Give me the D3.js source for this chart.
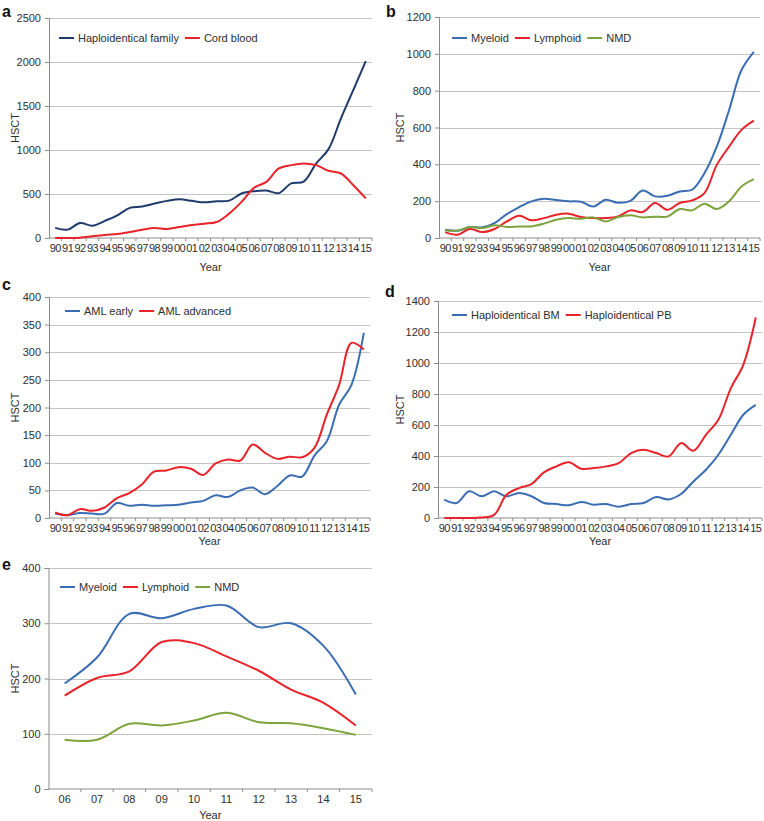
<!DOCTYPE html>
<html><head><meta charset="utf-8">
<script src="https://cdn.jsdelivr.net/npm/d3@7"></script>
<style>
body{margin:0;background:#fff;}
svg{display:block;font-family:"Liberation Sans",Arial,sans-serif;}
</style></head>
<body>
<svg id="chart" width="764" height="821"></svg>
<script>
// ---------- DATA ----------
const yearsLong = ["90","91","92","93","94","95","96","97","98","99","00","01","02","03","04","05","06","07","08","09","10","11","12","13","14","15"];
const yearsShort = ["06","07","08","09","10","11","12","13","14","15"];

// Panel a
const aHaplo = [115,95,170,140,195,258,342,358,391,422,441,422,405,418,425,505,532,540,510,620,640,845,1010,1360,1683,2010];
const aCord  = [0,0,3,20,35,45,68,95,114,103,125,148,163,182,277,410,570,638,790,828,847,828,765,733,600,450];

// Panel b
const bMyeloid  = [45,40,58,58,81,130,168,199,213,206,199,197,171,208,191,202,258,226,229,253,262,352,496,695,912,1011];
const bLymphoid = [32,18,49,32,49,90,121,96,108,126,132,114,108,108,117,150,141,190,153,190,204,244,397,496,587,637];
const bNMD      = [42,40,60,54,69,60,63,63,78,99,108,105,112,90,114,123,112,116,116,157,150,186,157,199,280,320];

// Panel c
const cEarly    = [8,5,9,8,8,27,22,24,22,23,24,28,31,41,38,50,55,43,58,77,75,113,139,205,241,335];
const cAdvanced = [10,5,16,13,19,36,45,60,84,86,92,89,78,99,106,104,133,118,107,111,110,127,187,241,317,305];

// Panel d
const dBM = [118,97,172,140,172,140,161,140,97,90,82,103,86,90,73,90,97,135,120,155,236,311,408,537,666,730];
const dPB = [0,0,0,3,20,150,193,219,294,333,359,318,322,333,354,419,440,419,397,483,434,537,634,838,988,1293];

// Panel e
const eMyeloid  = [191,238,317,309,326,332,293,300,259,171];
const eLymphoid = [169,201,213,266,264,240,214,180,156,115];
const eNMD      = [89,89,118,115,124,138,121,119,110,98];

// Axis maxima and tick steps
const yMax  = {a:2500, b:1200, c:400, d:1400, e:400};
const yStep = {a:500,  b:200,  c:50,  d:200,  e:100};

// ---------- STYLE ----------
const NAVY = "#1f3b6c", BLUE = "#3b6db3", RED = "#e8232a", GREEN = "#7da33c";
const TXT = "#2e2e2e", GRID = "#c4c4c4", AXIS = "#8c8c8c";
const FS = 11;

const svg = d3.select("#chart");

const panels = [
  {id:"a", cats:yearsLong, x0:49, x1:372, yTop:18, yBot:238, yearY:271, hsctX:15,
   lx:59, ly:38, letterX:2, letterY:17,
   series:[{name:"Haploidentical family", v:aHaplo, c:NAVY},{name:"Cord blood", v:aCord, c:RED}]},
  {id:"b", cats:yearsLong, x0:439, x1:760, yTop:17, yBot:238, yearY:271, hsctX:400,
   lx:452, ly:38, letterX:386, letterY:17,
   series:[{name:"Myeloid", v:bMyeloid, c:BLUE},{name:"Lymphoid", v:bLymphoid, c:RED},{name:"NMD", v:bNMD, c:GREEN}]},
  {id:"c", cats:yearsLong, x0:49, x1:370, yTop:297, yBot:518, yearY:545, hsctX:15,
   lx:65, ly:311, letterX:2, letterY:290,
   series:[{name:"AML early", v:cEarly, c:BLUE},{name:"AML advanced", v:cAdvanced, c:RED}]},
  {id:"d", cats:yearsLong, x0:438, x1:762, yTop:301, yBot:518, yearY:545, hsctX:400,
   lx:452, ly:315, letterX:385, letterY:297,
   series:[{name:"Haploidentical BM", v:dBM, c:BLUE},{name:"Haploidentical PB", v:dPB, c:RED}]},
  {id:"e", cats:yearsShort, x0:48.5, x1:372, yTop:568, yBot:789, yearY:819, hsctX:15,
   lx:60, ly:587, letterX:2, letterY:570,
   series:[{name:"Myeloid", v:eMyeloid, c:BLUE},{name:"Lymphoid", v:eLymphoid, c:RED},{name:"NMD", v:eNMD, c:GREEN}]}
];

panels.forEach(p => {
  const g = svg.append("g");
  const x = d3.scaleBand().domain(p.cats).range([p.x0, p.x1]);
  const y = d3.scaleLinear().domain([0, yMax[p.id]]).range([p.yBot, p.yTop]);
  const ticks = d3.range(0, yMax[p.id] + 1, yStep[p.id]);

  // gridlines
  g.append("g").selectAll("line").data(ticks.filter(t => t > 0)).join("line")
    .attr("x1", p.x0).attr("x2", p.x1)
    .attr("y1", d => Math.round(y(d)) + 0.5).attr("y2", d => Math.round(y(d)) + 0.5)
    .attr("stroke", GRID).attr("stroke-width", 1.2);

  // y axis
  const ya = g.append("g").attr("transform", `translate(${p.x0},0)`)
    .call(d3.axisLeft(y).tickValues(ticks).tickSize(4).tickPadding(4).tickFormat(d3.format("d")));
  ya.select(".domain").attr("stroke", AXIS);
  ya.selectAll(".tick line").attr("stroke", AXIS);
  ya.selectAll("text").attr("fill", TXT).attr("font-size", FS).attr("font-family", null);

  // x axis (category, ticks between categories)
  const xa = g.append("g").attr("transform", `translate(0,${p.yBot})`)
    .call(d3.axisBottom(x).tickSize(0).tickPadding(6));
  xa.select(".domain").attr("stroke", AXIS).attr("d", `M${p.x0},0H${p.x1}`);
  xa.selectAll("text").attr("fill", TXT).attr("font-size", FS).attr("font-family", null)
    .attr("letter-spacing", p.cats.length > 20 ? -0.6 : 0);
  const bounds = p.cats.map(c => x(c)).concat([p.x1]).slice(1);
  xa.append("g").selectAll("line").data(bounds).join("line")
    .attr("x1", d => d).attr("x2", d => d).attr("y1", 0).attr("y2", 3)
    .attr("stroke", AXIS);

  // lines
  const line = d3.line()
    .x((d, i) => x(p.cats[i]) + x.bandwidth() / 2)
    .y(d => y(d))
    .curve(d3.curveCatmullRom.alpha(0.5));
  p.series.forEach(s => {
    g.append("path").datum(s.v).attr("d", line)
      .attr("fill", "none").attr("stroke", s.c).attr("stroke-width", 2)
      .attr("stroke-linejoin", "round");
  });

  // axis titles
  g.append("text").attr("x", (p.x0 + p.x1) / 2).attr("y", p.yearY)
    .attr("text-anchor", "middle").attr("fill", TXT).attr("font-size", FS).text("Year");
  g.append("text")
    .attr("transform", `translate(${p.hsctX},${(p.yTop + p.yBot) / 2}) rotate(-90)`)
    .attr("text-anchor", "middle").attr("dy", "0.35em")
    .attr("fill", TXT).attr("font-size", FS).text("HSCT");

  // panel letter
  g.append("text").attr("x", p.letterX).attr("y", p.letterY)
    .attr("font-weight", "bold").attr("font-size", 16).attr("fill", "#111").text(p.id);

  // legend
  let lx = p.lx;
  p.series.forEach(s => {
    g.append("line").attr("x1", lx).attr("x2", lx + 15).attr("y1", p.ly).attr("y2", p.ly)
      .attr("stroke", s.c).attr("stroke-width", 2);
    const t = g.append("text").attr("x", lx + 19).attr("y", p.ly).attr("dy", "0.35em")
      .attr("fill", TXT).attr("font-size", FS).text(s.name);
    lx += 19 + t.node().getComputedTextLength() + 6;
  });
});
</script>
</body></html>
